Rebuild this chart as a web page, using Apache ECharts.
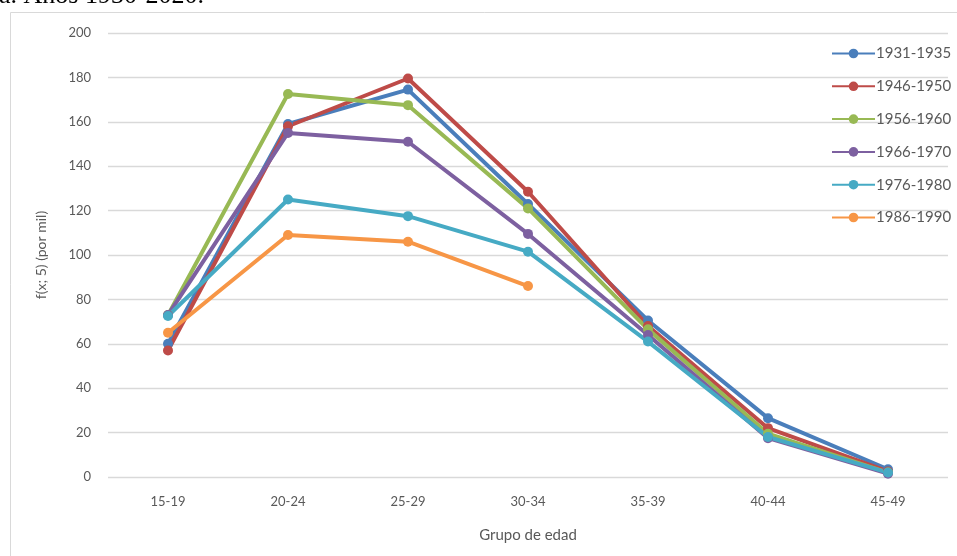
<!DOCTYPE html>
<html><head><meta charset="utf-8">
<script src="https://cdn.jsdelivr.net/npm/echarts@6/dist/echarts.min.js"></script>
<style>html,body{margin:0;padding:0;background:#fff}#c{width:957px;height:556px}</style>
</head><body><div id="c"></div>
<script>
const categories = ['15-19','20-24','25-29','30-34','35-39','40-44','45-49'];
const seriesNames = ['1931-1935','1946-1950','1956-1960','1966-1970','1976-1980','1986-1990'];
const s1931 = [60, 159, 174.5, 123, 70.5, 26.5, 3.5];
const s1946 = [57, 158, 179.5, 128.5, 68, 22, 2.5];
const s1956 = [73, 172.5, 167.5, 121, 66.5, 19.5, 2];
const s1966 = [73, 155, 151, 109.5, 64, 17.5, 1.5];
const s1976 = [72.5, 125, 117.5, 101.5, 61, 18, 2];
const s1986 = [65, 109, 106, 86];
const colors = ['#4A7EBB','#BE4B48','#98B954','#7D60A0','#46AAC4','#F79646'];
const allData = [s1931, s1946, s1956, s1966, s1976, s1986];
const FONT = 'Lato, "Liberation Sans", sans-serif';

const chart = echarts.init(document.getElementById('c'), null, {renderer:'canvas'});
chart.setOption({
  animation:false,
  graphic:[
    {type:'rect', shape:{x:10.5,y:12.5,width:1000,height:600}, style:{fill:'none', stroke:'#d9d9d9', lineWidth:1}, z:-1},
    {type:'text', left:-1, top:-17, style:{text:'a. Años 1930-2020.', font:'26px "Liberation Serif", serif', fill:'#000'}}
  ],
  grid:{left:108, right:9, top:33, bottom:79},
  legend:{
    orient:'vertical', left:826, top:41, itemWidth:43, itemHeight:12, itemGap:17.8,
    textStyle:{fontFamily:FONT, fontSize:15, color:'#595959', padding:[0,0,0,-4]},
    data:seriesNames
  },
  xAxis:{
    type:'category', data:categories, boundaryGap:true,
    axisLine:{show:false}, axisTick:{show:false},
    axisLabel:{fontFamily:FONT, fontSize:13, color:'#595959', margin:18},
    name:'Grupo de edad', nameLocation:'middle', nameGap:51,
    nameTextStyle:{fontFamily:FONT, fontSize:15, color:'#595959'}
  },
  yAxis:{
    type:'value', min:0, max:200, interval:20,
    axisLine:{show:false}, axisTick:{show:false},
    splitLine:{lineStyle:{color:'#d9d9d9', width:1.3}},
    axisLabel:{fontFamily:FONT, fontSize:13, color:'#595959', margin:17},
    name:'f(x; 5) (por mil)', nameLocation:'middle', nameGap:60,
    nameTextStyle:{fontFamily:FONT, fontSize:14, color:'#595959'}
  },
  series: seriesNames.map((n,i)=>({
    name:n, type:'line', data:allData[i], color:colors[i],
    symbol:'circle', symbolSize:10,
    lineStyle:{width:4, color:colors[i]},
    itemStyle:{color:colors[i]}
  }))
});
</script></body></html>
